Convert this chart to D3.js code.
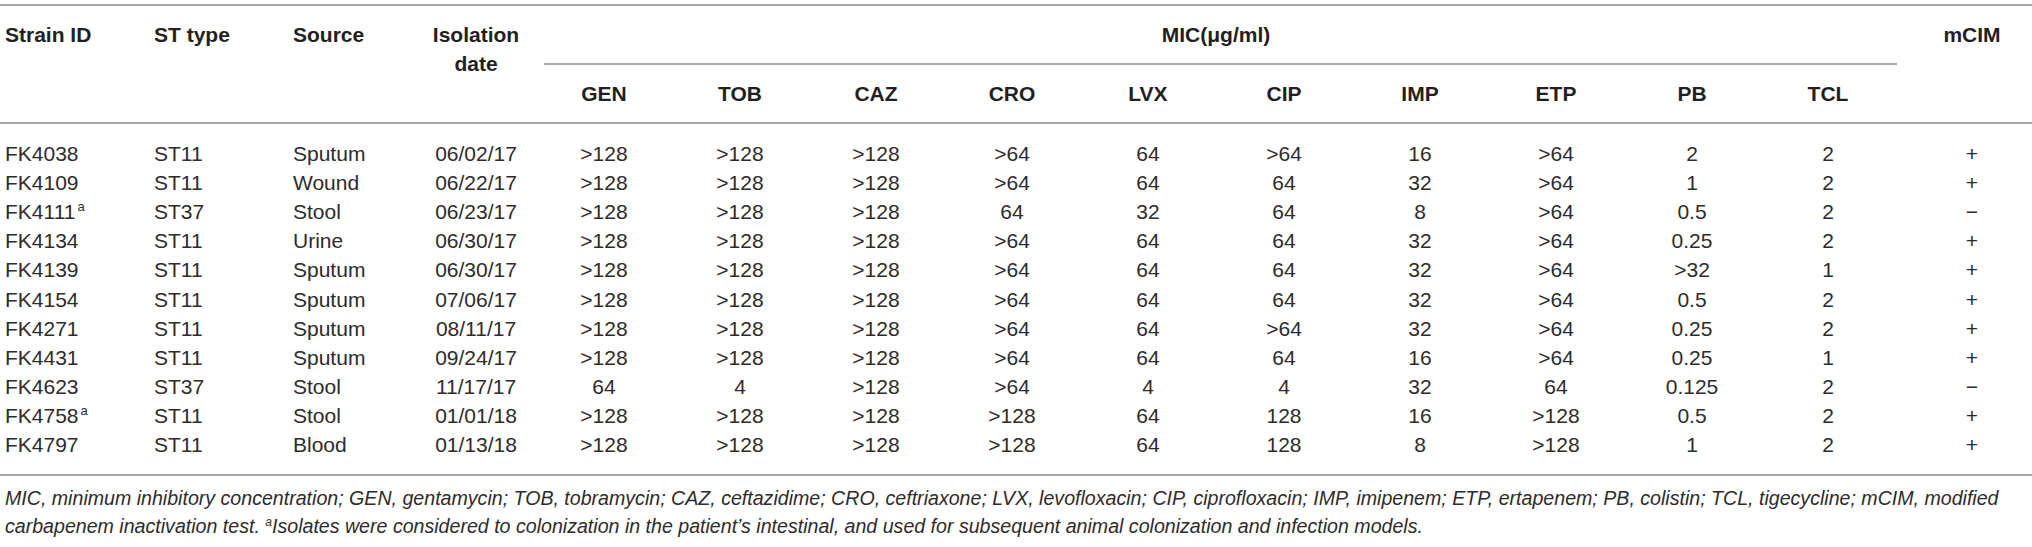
<!DOCTYPE html>
<html>
<head>
<meta charset="utf-8">
<script src="https://cdn.jsdelivr.net/npm/d3@7"></script>
<style>
  html, body { margin: 0; padding: 0; background: #fff; }
</style>
</head>
<body>
<div id="table"></div>
<script>
// table content
const strainIds = ["FK4038", "FK4109", "FK4111", "FK4134", "FK4139", "FK4154", "FK4271", "FK4431", "FK4623", "FK4758", "FK4797"];
const footMarked = ["FK4111", "FK4758"];
const stTypes = ["ST11", "ST11", "ST37", "ST11", "ST11", "ST11", "ST11", "ST11", "ST37", "ST11", "ST11"];
const sources = ["Sputum", "Wound", "Stool", "Urine", "Sputum", "Sputum", "Sputum", "Sputum", "Stool", "Stool", "Blood"];
const isoDates = ["06/02/17", "06/22/17", "06/23/17", "06/30/17", "06/30/17", "07/06/17", "08/11/17", "09/24/17", "11/17/17", "01/01/18", "01/13/18"];

const antibiotics = ["GEN", "TOB", "CAZ", "CRO", "LVX", "CIP", "IMP", "ETP", "PB", "TCL"];
const gen = [">128", ">128", ">128", ">128", ">128", ">128", ">128", ">128", "64", ">128", ">128"];
const tob = [">128", ">128", ">128", ">128", ">128", ">128", ">128", ">128", "4", ">128", ">128"];
const caz = [">128", ">128", ">128", ">128", ">128", ">128", ">128", ">128", ">128", ">128", ">128"];
const cro = [">64", ">64", "64", ">64", ">64", ">64", ">64", ">64", ">64", ">128", ">128"];
const lvx = ["64", "64", "32", "64", "64", "64", "64", "64", "4", "64", "64"];
const cip = [">64", "64", "64", "64", "64", "64", ">64", "64", "4", "128", "128"];
const imp = ["16", "32", "8", "32", "32", "32", "32", "16", "32", "16", "8"];
const etp = [">64", ">64", ">64", ">64", ">64", ">64", ">64", ">64", "64", ">128", ">128"];
const pb = ["2", "1", "0.5", "0.25", ">32", "0.5", "0.25", "0.25", "0.125", "0.5", "1"];
const tcl = ["2", "2", "2", "2", "1", "2", "2", "1", "2", "2", "2"];
const mcim = ["+", "+", "\u2212", "+", "+", "+", "+", "+", "\u2212", "+", "+"];

const footnote1 = "MIC, minimum inhibitory concentration; GEN, gentamycin; TOB, tobramycin; CAZ, ceftazidime; CRO, ceftriaxone; LVX, levofloxacin; CIP, ciprofloxacin; IMP, imipenem; ETP, ertapenem; PB, colistin; TCL, tigecycline; mCIM, modified";
const footnote2a = "carbapenem inactivation test. ";
const footnote2b = "Isolates were considered to colonization in the patient\u2019s intestinal, and used for subsequent animal colonization and infection models.";

const micValues = [gen, tob, caz, cro, lvx, cip, imp, etp, pb, tcl];

let width = 2032, height = 547;
let font = "'Liberation Sans', Arial, Helvetica, sans-serif";
let ink = "#231f20";
let rule = "#a8a8a8";

let svg = d3.select("#table").append("svg")
    .attr("width", width)
    .attr("height", height)
    .style("font-family", font);

// rows and columns
let y = d3.scaleBand()
    .domain(strainIds)
    .range([138.9, 459.4]);

let x = d3.scaleBand()
    .domain(antibiotics)
    .range([536, 1896]);

let rowY = d => y(d) + y.bandwidth() / 2;
let colX = d => x(d) + x.bandwidth() / 2;

let textCols = {id: 5, st: 154, source: 293, date: 476, mcim: 1972};
let headY1 = 35, headY2 = 64, headY3 = 94;

// rules
let rules = [
    {x1: 0, x2: width, y: 5},
    {x1: 544, x2: 1897, y: 64},
    {x1: 0, x2: width, y: 123},
    {x1: 0, x2: width, y: 475}
];
svg.append("g")
    .selectAll("line")
    .data(rules)
    .join("line")
        .attr("x1", d => d.x1)
        .attr("x2", d => d.x2)
        .attr("y1", d => d.y)
        .attr("y2", d => d.y)
        .attr("stroke", rule)
        .attr("stroke-width", 2);

// header
let head = svg.append("g")
    .attr("font-weight", "bold")
    .attr("font-size", 21)
    .attr("fill", ink);

let headCells = [
    {t: "Strain ID", x: textCols.id, y: headY1, a: "start"},
    {t: "ST type", x: textCols.st, y: headY1, a: "start"},
    {t: "Source", x: textCols.source, y: headY1, a: "start"},
    {t: "Isolation", x: textCols.date, y: headY1, a: "middle"},
    {t: "date", x: textCols.date, y: headY2, a: "middle"},
    {t: "MIC(\u03bcg/ml)", x: (x.range()[0] + x.range()[1]) / 2, y: headY1, a: "middle"},
    {t: "mCIM", x: textCols.mcim, y: headY1, a: "middle"}
];
head.selectAll("text.h")
    .data(headCells)
    .join("text")
        .attr("class", "h")
        .attr("x", d => d.x)
        .attr("y", d => d.y)
        .attr("dy", "0.35em")
        .attr("text-anchor", d => d.a)
        .text(d => d.t);

head.selectAll("text.ab")
    .data(antibiotics)
    .join("text")
        .attr("class", "ab")
        .attr("x", colX)
        .attr("y", headY3)
        .attr("dy", "0.35em")
        .attr("text-anchor", "middle")
        .text(d => d);

// body
let body = svg.append("g")
    .attr("font-size", 21)
    .attr("fill", "#2e2b2c");

let idText = body.selectAll("text.id")
    .data(strainIds)
    .join("text")
        .attr("class", "id")
        .attr("x", textCols.id)
        .attr("y", rowY)
        .attr("dy", "0.35em")
        .text(d => d);
idText.filter(d => footMarked.includes(d))
    .append("tspan")
        .attr("font-size", 13)
        .attr("dx", 2)
        .attr("dy", -8)
        .text("a");

let plainCols = [
    {vals: stTypes, x: textCols.st, a: "start"},
    {vals: sources, x: textCols.source, a: "start"},
    {vals: isoDates, x: textCols.date, a: "middle"},
    {vals: mcim, x: textCols.mcim, a: "middle"}
];
plainCols.forEach(c => {
    body.append("g")
        .selectAll("text")
        .data(c.vals)
        .join("text")
            .attr("x", c.x)
            .attr("y", (d, i) => rowY(strainIds[i]))
            .attr("dy", "0.35em")
            .attr("text-anchor", c.a)
            .text(d => d);
});

body.selectAll("g.mic")
    .data(micValues)
    .join("g")
        .attr("class", "mic")
        .attr("transform", (d, j) => `translate(${colX(antibiotics[j])},0)`)
    .selectAll("text")
    .data(d => d)
    .join("text")
        .attr("y", (d, i) => rowY(strainIds[i]))
        .attr("dy", "0.35em")
        .attr("text-anchor", "middle")
        .text(d => d);

// footnotes
let foot = svg.append("g")
    .attr("font-size", 19.6)
    .attr("font-style", "italic")
    .attr("fill", "#2e2b2c");

foot.append("text")
    .attr("x", 5)
    .attr("y", 498)
    .attr("dy", "0.35em")
    .text(footnote1);

let f2 = foot.append("text")
    .attr("x", 5)
    .attr("y", 526)
    .attr("dy", "0.35em");
f2.append("tspan").text(footnote2a);
f2.append("tspan").attr("font-size", 12).attr("dy", -7).text("a");
f2.append("tspan").attr("dy", 7).text(footnote2b);
</script>
</body>
</html>
